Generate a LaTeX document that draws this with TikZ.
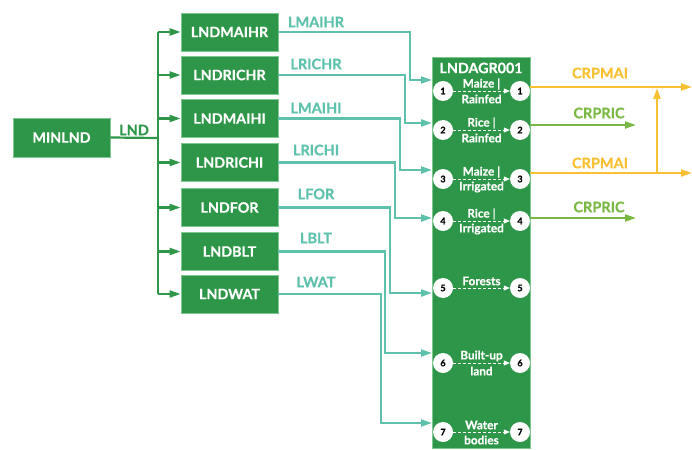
\documentclass[tikz,border=0pt]{standalone}
\usepackage{fontspec}
\setmainfont{Lato}[BoldFeatures={FakeBold=0.6}]
\usetikzlibrary{arrows.meta}
\definecolor{boxgreen}{HTML}{2E9648}
\definecolor{boxedge}{HTML}{7FC790}
\definecolor{tealc}{HTML}{5EC1AC}
\definecolor{orangec}{HTML}{FAC033}
\definecolor{lgreen}{HTML}{7AB844}
\begin{document}
\begin{tikzpicture}[x=1pt,y=-1pt,
  gbox/.style={draw=boxedge,line width=0.8pt,fill=boxgreen,text=white,font=\fontsize{14.3}{16}\selectfont\bfseries,
    minimum width=97pt,minimum height=38pt,inner sep=0pt},
  lbl/.style={font=\fontsize{14.5}{16}\selectfont\bfseries,inner sep=0pt},
  inner/.style={text=white,font=\fontsize{11.8}{12}\selectfont\bfseries,inner sep=0pt},
  num/.style={circle,fill=white,minimum size=20pt,inner sep=0pt,font=\fontsize{9}{10}\selectfont\bfseries},
  gline/.style={draw=boxgreen,line width=2.2pt,-{Triangle[length=11pt,width=7pt]}},
  tline/.style={draw=tealc,line width=2.2pt,-{Triangle[length=11pt,width=7pt]}},
  oline/.style={draw=orangec,line width=2.2pt,-{Triangle[length=11pt,width=7pt]}},
  lline/.style={draw=lgreen,line width=2.2pt,-{Triangle[length=11pt,width=7pt]}},
  dline/.style={draw=white,line width=0.8pt,dash pattern=on 3pt off 2pt,-{Triangle[length=6pt,width=5pt]}}
]
\useasboundingbox (0,0) rectangle (692,449);

% left column
\node[gbox,minimum height=39pt] (minlnd) at (61.5,137.5) {MINLND};
\node[gbox] (b1) at (229.5,32) {LNDMAIHR};
\node[gbox] (b2) at (229.5,75) {LNDRICHR};
\node[gbox] (b3) at (229.5,118.5) {LNDMAIHI};
\node[gbox] (b4) at (229.5,162.5) {LNDRICHI};
\node[gbox] (b5) at (229.5,207.5) {LNDFOR};
\node[gbox] (b6) at (229.5,251.5) {LNDBLT};
\node[gbox] (b7) at (229.5,294) {LNDWAT};

\coordinate (trunk) at (158,138);
\draw[boxgreen,line width=2.2pt] (minlnd.east) -- (trunk);
\draw[boxgreen,line width=2.2pt] (158,32) -- (158,294);
\node[lbl,text=boxgreen] (lndl) at (134,130) {LND};
\foreach \b in {b1,b2,b3,b4,b5,b6,b7}
  \draw[gline] (trunk |- \b.west) -- (\b.west);

% big box
\node[gbox,minimum width=98pt,minimum height=391pt] (agr) at (481,252.5) {};
\node[text=white,font=\fontsize{14.3}{16}\selectfont\bfseries,inner sep=0pt] (agrt) at (481,68) {LNDAGR001};

% circles
\foreach \i/\y in {1/91,2/130,3/179,4/221,5/288,6/363,7/432}{
  \node[num] (l\i) at (443,\y) {\i};
  \node[num] (r\i) at (520,\y) {\i};
  \draw[dline] (l\i.east) -- (r\i.west);
}
\node[inner] (t1a) at (481.5,84) {Maize |};
\node[inner] (t1b) at (481.5,99) {Rainfed};
\node[inner] (t2a) at (481.5,123) {Rice |};
\node[inner] (t2b) at (481.5,138) {Rainfed};
\node[inner] (t3a) at (481.5,172) {Maize |};
\node[inner] (t3b) at (481.5,187) {Irrigated};
\node[inner] (t4a) at (481.5,214) {Rice |};
\node[inner] (t4b) at (481.5,229) {Irrigated};
\node[inner] (t5a) at (481.5,281) {Forests};
\node[inner] (t6a) at (481.5,356) {Built-up};
\node[inner] (t6b) at (481.5,371) {land};
\node[inner] (t7a) at (481.5,425) {Water};
\node[inner] (t7b) at (481.5,440) {bodies};

% input coordinates on big box
\coordinate (in1) at (432,80);
\coordinate (in2) at (432,123);
\coordinate (in3) at (432,170);
\coordinate (in4) at (432,218);
\coordinate (in5) at (432,293);
\coordinate (in6) at (432,353);
\coordinate (in7) at (432,423);

\draw[tline] (b1.east) -| (410,80) -- (in1);
\draw[tline] (b2.east) -| (405,123) -- (in2);
\draw[tline] (b3.east) -| (400,170) -- (in3);
\draw[tline] (b4.east) -| (395,218) -- (in4);
\draw[tline] (b5.east) -| (390,293) -- (in5);
\draw[tline] (b6.east) -| (385,353) -- (in6);
\draw[tline] (b7.east) -| (381,423) -- (in7);

\node[lbl,text=tealc] (lab1) at (316,22) {LMAIHR};
\node[lbl,text=tealc] (lab2) at (316,64) {LRICHR};
\node[lbl,text=tealc] (lab3) at (316,108) {LMAIHI};
\node[lbl,text=tealc] (lab4) at (316,150) {LRICHI};
\node[lbl,text=tealc] (lab5) at (316,194) {LFOR};
\node[lbl,text=tealc] (lab6) at (316,238) {LBLT};
\node[lbl,text=tealc] (lab7) at (316,282) {LWAT};

% outputs
\coordinate (o1) at (692,87);
\coordinate (o2) at (636,125);
\coordinate (o3) at (692,173);
\coordinate (o4) at (636,218);
\coordinate (vbot) at (657,173);
\coordinate (vtop) at (657,88);
\draw[oline] ([yshift=4pt]r1.east) -- (o1);
\draw[lline] ([yshift=5pt]r2.east) -- (o2);
\draw[oline] ([yshift=6pt]r3.east) -- (o3);
\draw[lline] ([yshift=3pt]r4.east) -- (o4);
\draw[oline] (vbot) -- (vtop);

\node[lbl,text=orangec] (c1) at (600,73) {CRPMAI};
\node[lbl,text=lgreen] (c2) at (599,113) {CRPRIC};
\node[lbl,text=orangec] (c3) at (600,163) {CRPMAI};
\node[lbl,text=lgreen] (c4) at (599,207) {CRPRIC};
\end{tikzpicture}
\end{document}
